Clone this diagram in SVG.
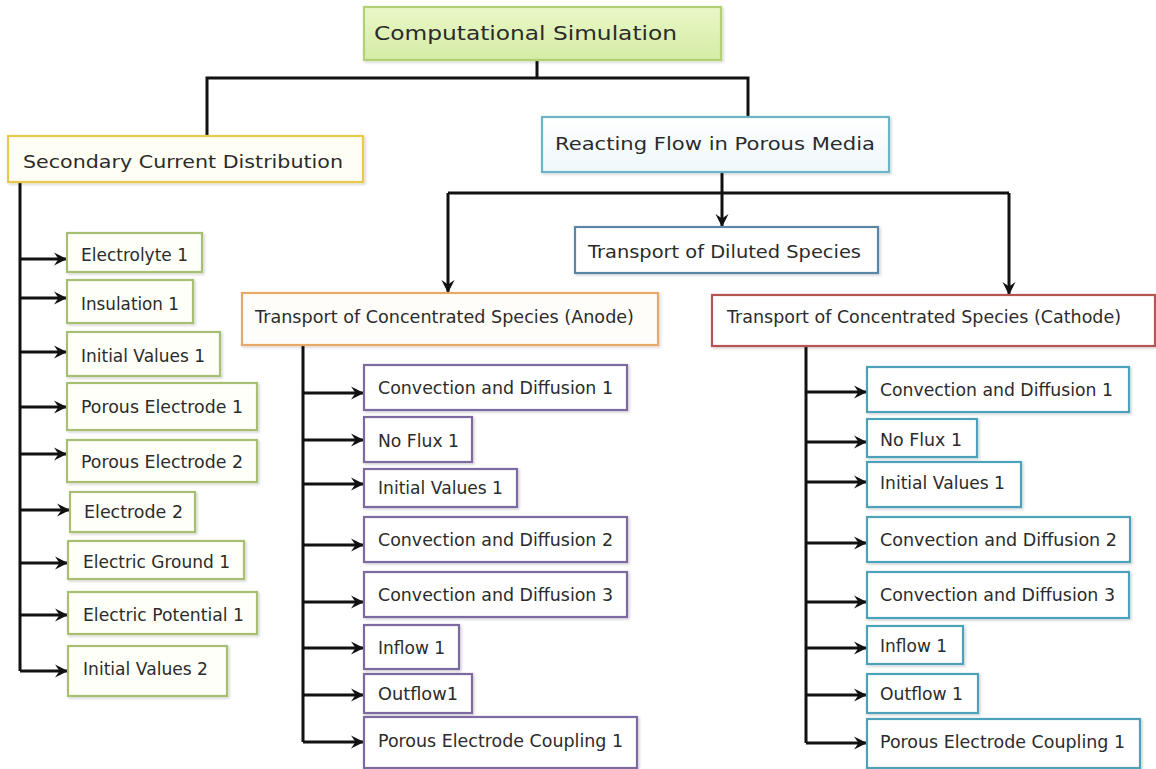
<svg xmlns="http://www.w3.org/2000/svg" width="1156" height="769" viewBox="0 0 1156 769">
<defs>
<linearGradient id="gTop" x1="0" y1="0" x2="0" y2="1"><stop offset="0" stop-color="#eaf7c8"/><stop offset="1" stop-color="#d4eca4"/></linearGradient>
<linearGradient id="gTeal" x1="0" y1="0" x2="0" y2="1"><stop offset="0" stop-color="#ffffff"/><stop offset="1" stop-color="#eef8fb"/></linearGradient>
<filter id="sh" x="-5%" y="-10%" width="110%" height="130%"><feDropShadow dx="1.5" dy="1.5" stdDeviation="1.2" flood-color="#000" flood-opacity="0.18"/></filter>
<marker id="ar" markerUnits="userSpaceOnUse" markerWidth="16" markerHeight="16" refX="13" refY="7" orient="auto"><path d="M0,0.5 L13,7 L0,13.5 L4.5,7 Z" fill="#111"/></marker>
<style>
rect{stroke-width:2.2;filter:url(#sh)}
.top{fill:url(#gTop);stroke:#b3d077}
.sec{fill:#fffef4;stroke:#e9c94c}
.rea{fill:url(#gTeal);stroke:#6eb4c6}
.dil{fill:#ffffff;stroke:#5a87a6}
.ano{fill:#fffdf9;stroke:#e8a86a}
.cat{fill:#ffffff;stroke:#b65252}
.lg{fill:#fffff9;stroke:#a7bf72}
.pu{fill:#ffffff;stroke:#7c6ba0}
.te{fill:#ffffff;stroke:#4ea2b9}
text{font-family:"DejaVu Sans","Noto Sans",sans-serif;fill:#2b2b2b;font-size:17px}
.big{font-size:20px}
.mid{font-size:18px}
#connectors path{fill:none;stroke:#111;stroke-width:3;stroke-linejoin:miter}
.a{marker-end:url(#ar)}
</style>
</defs>

<g id="connectors">
<path d="M537,60 V78"/>
<path d="M207,136 V78 H748 V117"/>
<path d="M722,172 V193"/>
<path d="M448,193 H1009"/>
<path class="a" d="M448,193 V293"/>
<path class="a" d="M722,193 V227"/>
<path class="a" d="M1009,193 V295"/>
<path d="M20,182 V671"/>
<path class="a" d="M20,259 H67"/>
<path class="a" d="M20,298 H67"/>
<path class="a" d="M20,352 H67"/>
<path class="a" d="M20,407 H67"/>
<path class="a" d="M20,454 H67"/>
<path class="a" d="M20,510 H70"/>
<path class="a" d="M20,563 H68"/>
<path class="a" d="M20,615 H68"/>
<path class="a" d="M20,671 H68"/>
<path d="M303,345 V742"/>
<path class="a" d="M303,393 H364"/>
<path class="a" d="M303,440 H364"/>
<path class="a" d="M303,484 H364"/>
<path class="a" d="M303,545 H364"/>
<path class="a" d="M303,602 H364"/>
<path class="a" d="M303,648 H364"/>
<path class="a" d="M303,695 H364"/>
<path class="a" d="M303,742 H364"/>
<path d="M806,346 V743"/>
<path class="a" d="M806,392 H867"/>
<path class="a" d="M806,442 H867"/>
<path class="a" d="M806,482 H867"/>
<path class="a" d="M806,543 H867"/>
<path class="a" d="M806,602 H867"/>
<path class="a" d="M806,648 H867"/>
<path class="a" d="M806,695 H867"/>
<path class="a" d="M806,743 H867"/>
</g>

<g id="computational-simulation"><rect class="top" x="364" y="7" width="357" height="53"/><text class="big" x="374" y="40" textLength="303" lengthAdjust="spacingAndGlyphs">Computational Simulation</text></g>
<g id="secondary-current"><rect class="sec" x="8" y="136" width="355" height="46"/><text class="mid" x="23" y="168" textLength="320" lengthAdjust="spacingAndGlyphs">Secondary Current Distribution</text></g>
<g id="reacting-flow"><rect class="rea" x="542" y="117" width="347" height="55"/><text class="mid" x="555" y="150" textLength="320" lengthAdjust="spacingAndGlyphs">Reacting Flow in Porous Media</text></g>
<g id="diluted-species"><rect class="dil" x="575" y="227" width="303" height="46"/><text x="588" y="258" textLength="273" lengthAdjust="spacingAndGlyphs">Transport of Diluted Species</text></g>
<g id="anode"><rect class="ano" x="242" y="293" width="416" height="52"/><text x="255" y="323" textLength="379" lengthAdjust="spacingAndGlyphs">Transport of Concentrated Species (Anode)</text></g>
<g id="cathode"><rect class="cat" x="712" y="295" width="443" height="51"/><text x="727" y="323" textLength="394" lengthAdjust="spacingAndGlyphs">Transport of Concentrated Species (Cathode)</text></g>

<g id="s-electrolyte1"><rect class="lg" x="67" y="233" width="135" height="39"/><text x="81" y="261" textLength="107" lengthAdjust="spacingAndGlyphs">Electrolyte 1</text></g>
<g id="s-insulation1"><rect class="lg" x="67" y="280" width="126" height="43"/><text x="81" y="310" textLength="98" lengthAdjust="spacingAndGlyphs">Insulation 1</text></g>
<g id="s-initial1"><rect class="lg" x="67" y="332" width="153" height="44"/><text x="81" y="362" textLength="124" lengthAdjust="spacingAndGlyphs">Initial Values 1</text></g>
<g id="s-porous1"><rect class="lg" x="67" y="383" width="190" height="47"/><text x="81" y="413" textLength="162" lengthAdjust="spacingAndGlyphs">Porous Electrode 1</text></g>
<g id="s-porous2"><rect class="lg" x="67" y="440" width="190" height="42"/><text x="81" y="468" textLength="162" lengthAdjust="spacingAndGlyphs">Porous Electrode 2</text></g>
<g id="s-electrode2"><rect class="lg" x="70" y="492" width="125" height="40"/><text x="84" y="518" textLength="99" lengthAdjust="spacingAndGlyphs">Electrode 2</text></g>
<g id="s-ground1"><rect class="lg" x="68" y="541" width="176" height="38"/><text x="83" y="568" textLength="147" lengthAdjust="spacingAndGlyphs">Electric Ground 1</text></g>
<g id="s-potential1"><rect class="lg" x="68" y="592" width="189" height="42"/><text x="83" y="621" textLength="161" lengthAdjust="spacingAndGlyphs">Electric Potential 1</text></g>
<g id="s-initial2"><rect class="lg" x="68" y="646" width="159" height="50"/><text x="83" y="675" textLength="125" lengthAdjust="spacingAndGlyphs">Initial Values 2</text></g>

<g id="a-cd1"><rect class="pu" x="364" y="365" width="263" height="45"/><text x="378" y="394" textLength="235" lengthAdjust="spacingAndGlyphs">Convection and Diffusion 1</text></g>
<g id="a-noflux1"><rect class="pu" x="364" y="417" width="108" height="45"/><text x="378" y="447" textLength="81" lengthAdjust="spacingAndGlyphs">No Flux 1</text></g>
<g id="a-initial1"><rect class="pu" x="364" y="469" width="153" height="38"/><text x="378" y="494" textLength="125" lengthAdjust="spacingAndGlyphs">Initial Values 1</text></g>
<g id="a-cd2"><rect class="pu" x="364" y="517" width="263" height="45"/><text x="378" y="546" textLength="235" lengthAdjust="spacingAndGlyphs">Convection and Diffusion 2</text></g>
<g id="a-cd3"><rect class="pu" x="364" y="572" width="263" height="45"/><text x="378" y="601" textLength="235" lengthAdjust="spacingAndGlyphs">Convection and Diffusion 3</text></g>
<g id="a-inflow1"><rect class="pu" x="364" y="625" width="95" height="44"/><text x="378" y="654" textLength="67" lengthAdjust="spacingAndGlyphs">Inflow 1</text></g>
<g id="a-outflow1"><rect class="pu" x="364" y="674" width="108" height="39"/><text x="378" y="700" textLength="80" lengthAdjust="spacingAndGlyphs">Outflow1</text></g>
<g id="a-pec1"><rect class="pu" x="364" y="717" width="273" height="51"/><text x="378" y="747" textLength="245" lengthAdjust="spacingAndGlyphs">Porous Electrode Coupling 1</text></g>

<g id="c-cd1"><rect class="te" x="867" y="367" width="262" height="45"/><text x="880" y="396" textLength="233" lengthAdjust="spacingAndGlyphs">Convection and Diffusion 1</text></g>
<g id="c-noflux1"><rect class="te" x="867" y="419" width="110" height="38"/><text x="880" y="446" textLength="82" lengthAdjust="spacingAndGlyphs">No Flux 1</text></g>
<g id="c-initial1"><rect class="te" x="867" y="462" width="154" height="45"/><text x="880" y="489" textLength="125" lengthAdjust="spacingAndGlyphs">Initial Values 1</text></g>
<g id="c-cd2"><rect class="te" x="867" y="517" width="263" height="45"/><text x="880" y="546" textLength="237" lengthAdjust="spacingAndGlyphs">Convection and Diffusion 2</text></g>
<g id="c-cd3"><rect class="te" x="867" y="572" width="262" height="46"/><text x="880" y="601" textLength="235" lengthAdjust="spacingAndGlyphs">Convection and Diffusion 3</text></g>
<g id="c-inflow1"><rect class="te" x="867" y="626" width="96" height="38"/><text x="880" y="652" textLength="67" lengthAdjust="spacingAndGlyphs">Inflow 1</text></g>
<g id="c-outflow1"><rect class="te" x="867" y="674" width="111" height="39"/><text x="880" y="700" textLength="83" lengthAdjust="spacingAndGlyphs">Outflow 1</text></g>
<g id="c-pec1"><rect class="te" x="867" y="719" width="273" height="49"/><text x="880" y="748" textLength="245" lengthAdjust="spacingAndGlyphs">Porous Electrode Coupling 1</text></g>
</svg>
